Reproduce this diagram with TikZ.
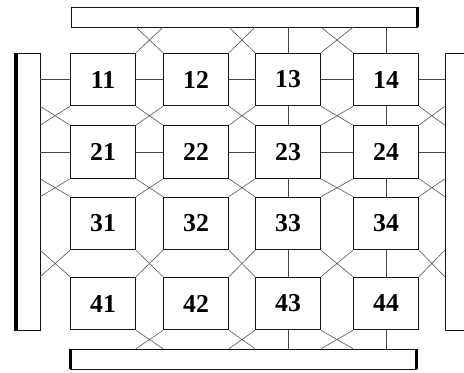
\documentclass[tikz,border=0pt]{standalone}
\usepackage{fontspec}
\setmainfont{Liberation Serif}
\usepackage{xcolor}
\usepackage{tikz}
\usetikzlibrary{positioning,calc}
\definecolor{C_ink}{RGB}{20,20,20}
\definecolor{C_wire}{RGB}{70,70,70}
\definecolor{C_diag}{RGB}{95,95,95}

\begin{document}
\begin{tikzpicture}[
    x=0.3mm, y=-0.3mm,
    font=\fontsize{22}{24}\selectfont\bfseries,
    blk/.style={draw=C_ink, rectangle, fill=white, minimum width=19.5mm, minimum height=15.8mm, inner sep=0pt, line width=1pt},
    hbar/.style={draw=C_ink, rectangle, minimum width=103.8mm, minimum height=6mm, inner sep=0pt, line width=0.6pt},
    vbar/.style={draw=C_ink, rectangle, minimum height=83.1mm, inner sep=0pt, line width=0.6pt},
    edge/.style={line width=2.6pt, draw=black},
    wire/.style={draw=C_wire, line width=0.7pt},
    xwire/.style={draw=C_diag, line width=0.55pt},
]
% Page frame (the right bar runs off the edge)
\path[use as bounding box, clip] (0,0) rectangle (464,373);

% Bus bars
\node[hbar] (topbar) at (244.5, 17) {};
\node[hbar] (botbar) at (243.5, 359) {};
\node[vbar, minimum width=7.8mm] (leftbar) at (27, 191.5) {};
\node[vbar, minimum width=10.5mm] (rightbar) at (462.5, 191.5) {};
\draw[edge] (topbar.north east) -- (topbar.south east);
\draw[edge] (botbar.north east) -- (botbar.south east);
\draw[edge] (botbar.north west) -- (botbar.south west);
\draw[edge, line width=3.4pt] ([xshift=0.6mm]leftbar.north west) -- ([xshift=0.6mm]leftbar.south west);

% Row 1 blocks
\node[blk] (b11) at (103, 79.5) {11};
\node[blk] (b12) at (196, 79.5) {12};
\node[blk] (b13) at (288, 79.5) {13};
\node[blk] (b14) at (386, 79.5) {14};

% Row 2 blocks
\node[blk] (b21) at (103, 152) {21};
\node[blk] (b22) at (196, 152) {22};
\node[blk] (b23) at (288, 152) {23};
\node[blk] (b24) at (386, 152) {24};

% Row 3 blocks
\node[blk] (b31) at (103, 223.5) {31};
\node[blk] (b32) at (196, 223.5) {32};
\node[blk] (b33) at (288, 223.5) {33};
\node[blk] (b34) at (386, 223.5) {34};

% Row 4 blocks
\node[blk] (b41) at (103, 303.5) {41};
\node[blk] (b42) at (196, 303.5) {42};
\node[blk] (b43) at (288, 303.5) {43};
\node[blk] (b44) at (386, 303.5) {44};

% Horizontal links (rows 1 and 2)
\draw[wire] (b11.west -| leftbar.east) -- (b11.west);
\draw[wire] (b11.east) -- (b12.west);
\draw[wire] (b12.east) -- (b13.west);
\draw[wire] (b13.east) -- (b14.west);
\draw[wire] (b14.east) -- (b14.east -| rightbar.west);
\draw[wire] (b21.west -| leftbar.east) -- (b21.west);
\draw[wire] (b21.east) -- (b22.west);
\draw[wire] (b22.east) -- (b23.west);
\draw[wire] (b23.east) -- (b24.west);
\draw[wire] (b24.east) -- (b24.east -| rightbar.west);

% Vertical links (columns 3 and 4)
\draw[wire] (b13.north |- topbar.south) -- (b13.north);
\draw[wire] (b13.south) -- (b23.north);
\draw[wire] (b23.south) -- (b33.north);
\draw[wire] (b33.south) -- (b43.north);
\draw[wire] (b43.south) -- (b43.south |- botbar.north);
\draw[wire] (b14.north |- topbar.south) -- (b14.north);
\draw[wire] (b14.south) -- (b24.north);
\draw[wire] (b24.south) -- (b34.north);
\draw[wire] (b34.south) -- (b44.north);
\draw[wire] (b44.south) -- (b44.south |- botbar.north);

% Diagonal crossings under the top bar
\draw[xwire] (b11.north east |- topbar.south) -- (b12.north west) (b12.north west |- topbar.south) -- (b11.north east);
\draw[xwire] (b12.north east |- topbar.south) -- (b13.north west) (b13.north west |- topbar.south) -- (b12.north east);
\draw[xwire] (b13.north east |- topbar.south) -- (b14.north west) (b14.north west |- topbar.south) -- (b13.north east);

% Diagonal crossings above the bottom bar
\draw[xwire] (b41.south east) -- (b42.south west |- botbar.north) (b42.south west) -- (b41.south east |- botbar.north);
\draw[xwire] (b42.south east) -- (b43.south west |- botbar.north) (b43.south west) -- (b42.south east |- botbar.north);
\draw[xwire] (b43.south east) -- (b44.south west |- botbar.north) (b44.south west) -- (b43.south east |- botbar.north);

% Diagonal crossings beside the left bar
\draw[xwire] (b11.south west -| leftbar.east) -- (b21.north west) (b21.north west -| leftbar.east) -- (b11.south west);
\draw[xwire] (b21.south west -| leftbar.east) -- (b31.north west) (b31.north west -| leftbar.east) -- (b21.south west);
\draw[xwire] (b31.south west -| leftbar.east) -- (b41.north west) (b41.north west -| leftbar.east) -- (b31.south west);

% Diagonal crossings beside the right bar
\draw[xwire] (b14.south east) -- (b24.north east -| rightbar.west) (b24.north east) -- (b14.south east -| rightbar.west);
\draw[xwire] (b24.south east) -- (b34.north east -| rightbar.west) (b34.north east) -- (b24.south east -| rightbar.west);
\draw[xwire] (b34.south east) -- (b44.north east -| rightbar.west) (b44.north east) -- (b34.south east -| rightbar.west);

% Diagonal crossings between blocks
\draw[xwire] (b11.south east) -- (b22.north west) (b12.south west) -- (b21.north east);
\draw[xwire] (b12.south east) -- (b23.north west) (b13.south west) -- (b22.north east);
\draw[xwire] (b13.south east) -- (b24.north west) (b14.south west) -- (b23.north east);
\draw[xwire] (b21.south east) -- (b32.north west) (b22.south west) -- (b31.north east);
\draw[xwire] (b22.south east) -- (b33.north west) (b23.south west) -- (b32.north east);
\draw[xwire] (b23.south east) -- (b34.north west) (b24.south west) -- (b33.north east);
\draw[xwire] (b31.south east) -- (b42.north west) (b32.south west) -- (b41.north east);
\draw[xwire] (b32.south east) -- (b43.north west) (b33.south west) -- (b42.north east);
\draw[xwire] (b33.south east) -- (b44.north west) (b34.south west) -- (b43.north east);
\end{tikzpicture}
\end{document}
